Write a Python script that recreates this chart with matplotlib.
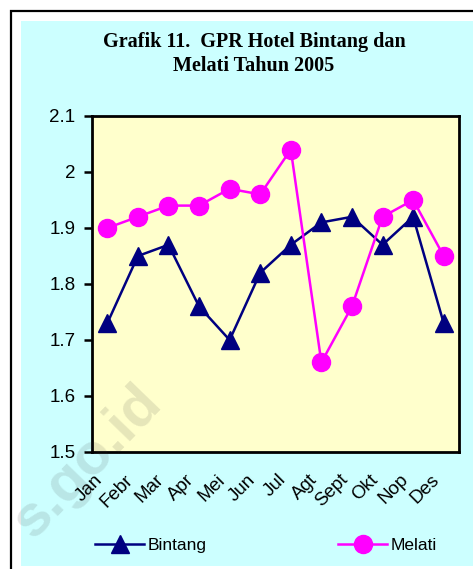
import matplotlib.pyplot as plt
from matplotlib.patches import Rectangle
from matplotlib.transforms import ScaledTranslation

bulan = ['Jan', 'Febr', 'Mar', 'Apr', 'Mei', 'Jun', 'Jul', 'Agt', 'Sept', 'Okt', 'Nop', 'Des']
bintang = [1.73, 1.85, 1.87, 1.76, 1.70, 1.82, 1.87, 1.91, 1.92, 1.87, 1.92, 1.73]
melati = [1.90, 1.92, 1.94, 1.94, 1.97, 1.96, 2.04, 1.66, 1.76, 1.92, 1.95, 1.85]
y_ticks = [1.5, 1.6, 1.7, 1.8, 1.9, 2.0, 2.1]
y_labels = ['1.5', '1.6', '1.7', '1.8', '1.9', '2', '2.1']

W, H = 473, 569
fig = plt.figure(figsize=(W / 100, H / 100), dpi=100)
fig.patch.set_facecolor('white')

# frame and cyan panel
fig.patches.append(Rectangle((11 / W, -0.1), 1.2, 1 - 11 / H + 0.1, transform=fig.transFigure,
                             facecolor='white', edgecolor='black', linewidth=1.6, zorder=-10))
fig.patches.append(Rectangle((21 / W, 1 - 566 / H), 1, (566 - 21) / H, transform=fig.transFigure,
                             facecolor='#ccffff', edgecolor='none', zorder=-9))

ax = fig.add_axes([92 / W, 1 - 452 / H, (459 - 92) / W, (452 - 116) / H])
ax.set_facecolor('#ffffcc')
x = range(len(bulan))
ax.plot(x, bintang, color='#000080', marker='^', markersize=13, linewidth=1.8, label='Bintang')
ax.plot(x, melati, color='#ff00ff', marker='o', markersize=13, linewidth=1.8, label='Melati')

ax.set_xlim(-0.5, 11.5)
ax.set_ylim(1.5, 2.1)
ax.set_yticks(y_ticks)
ax.set_yticklabels(y_labels, fontsize=13.5, family='Liberation Sans')
ax.set_xticks(list(x))
ax.set_xticklabels(bulan, fontsize=13.5, family='Liberation Sans', rotation=45,
                   ha='right', va='center', rotation_mode='anchor')
ax.tick_params(axis='x', length=0, pad=16)
ax.tick_params(axis='y', direction='out', length=6, width=1.8, pad=6)
shift = ScaledTranslation(-7 / 100, -3 / 100, fig.dpi_scale_trans)
for lab in ax.get_xticklabels():
    lab.set_transform(lab.get_transform() + shift)
for s in ax.spines.values():
    s.set_linewidth(2)

fig.text(254 / W, 1 - 42 / H, 'Grafik 11.  GPR Hotel Bintang dan', ha='center', va='center',
         fontsize=14.5, fontweight='bold', family='Liberation Serif')
fig.text(254 / W, 1 - 66 / H, 'Melati Tahun 2005', ha='center', va='center',
         fontsize=14.5, fontweight='bold', family='Liberation Serif')

leg = fig.legend(loc='center', bbox_to_anchor=(266 / W, 1 - 545 / H), ncol=2, frameon=False,
                 columnspacing=7.6, handlelength=2.8, handletextpad=0.2,
                 prop={'family': 'Liberation Sans', 'size': 12.5})

# faint watermark
fig.text(88 / W, 1 - 462 / H, 's.go.id', rotation=46, ha='center', va='center',
         fontsize=42, fontweight='bold', family='Liberation Sans', color='#303030', alpha=0.12)

fig.savefig('out.png', dpi=100)
